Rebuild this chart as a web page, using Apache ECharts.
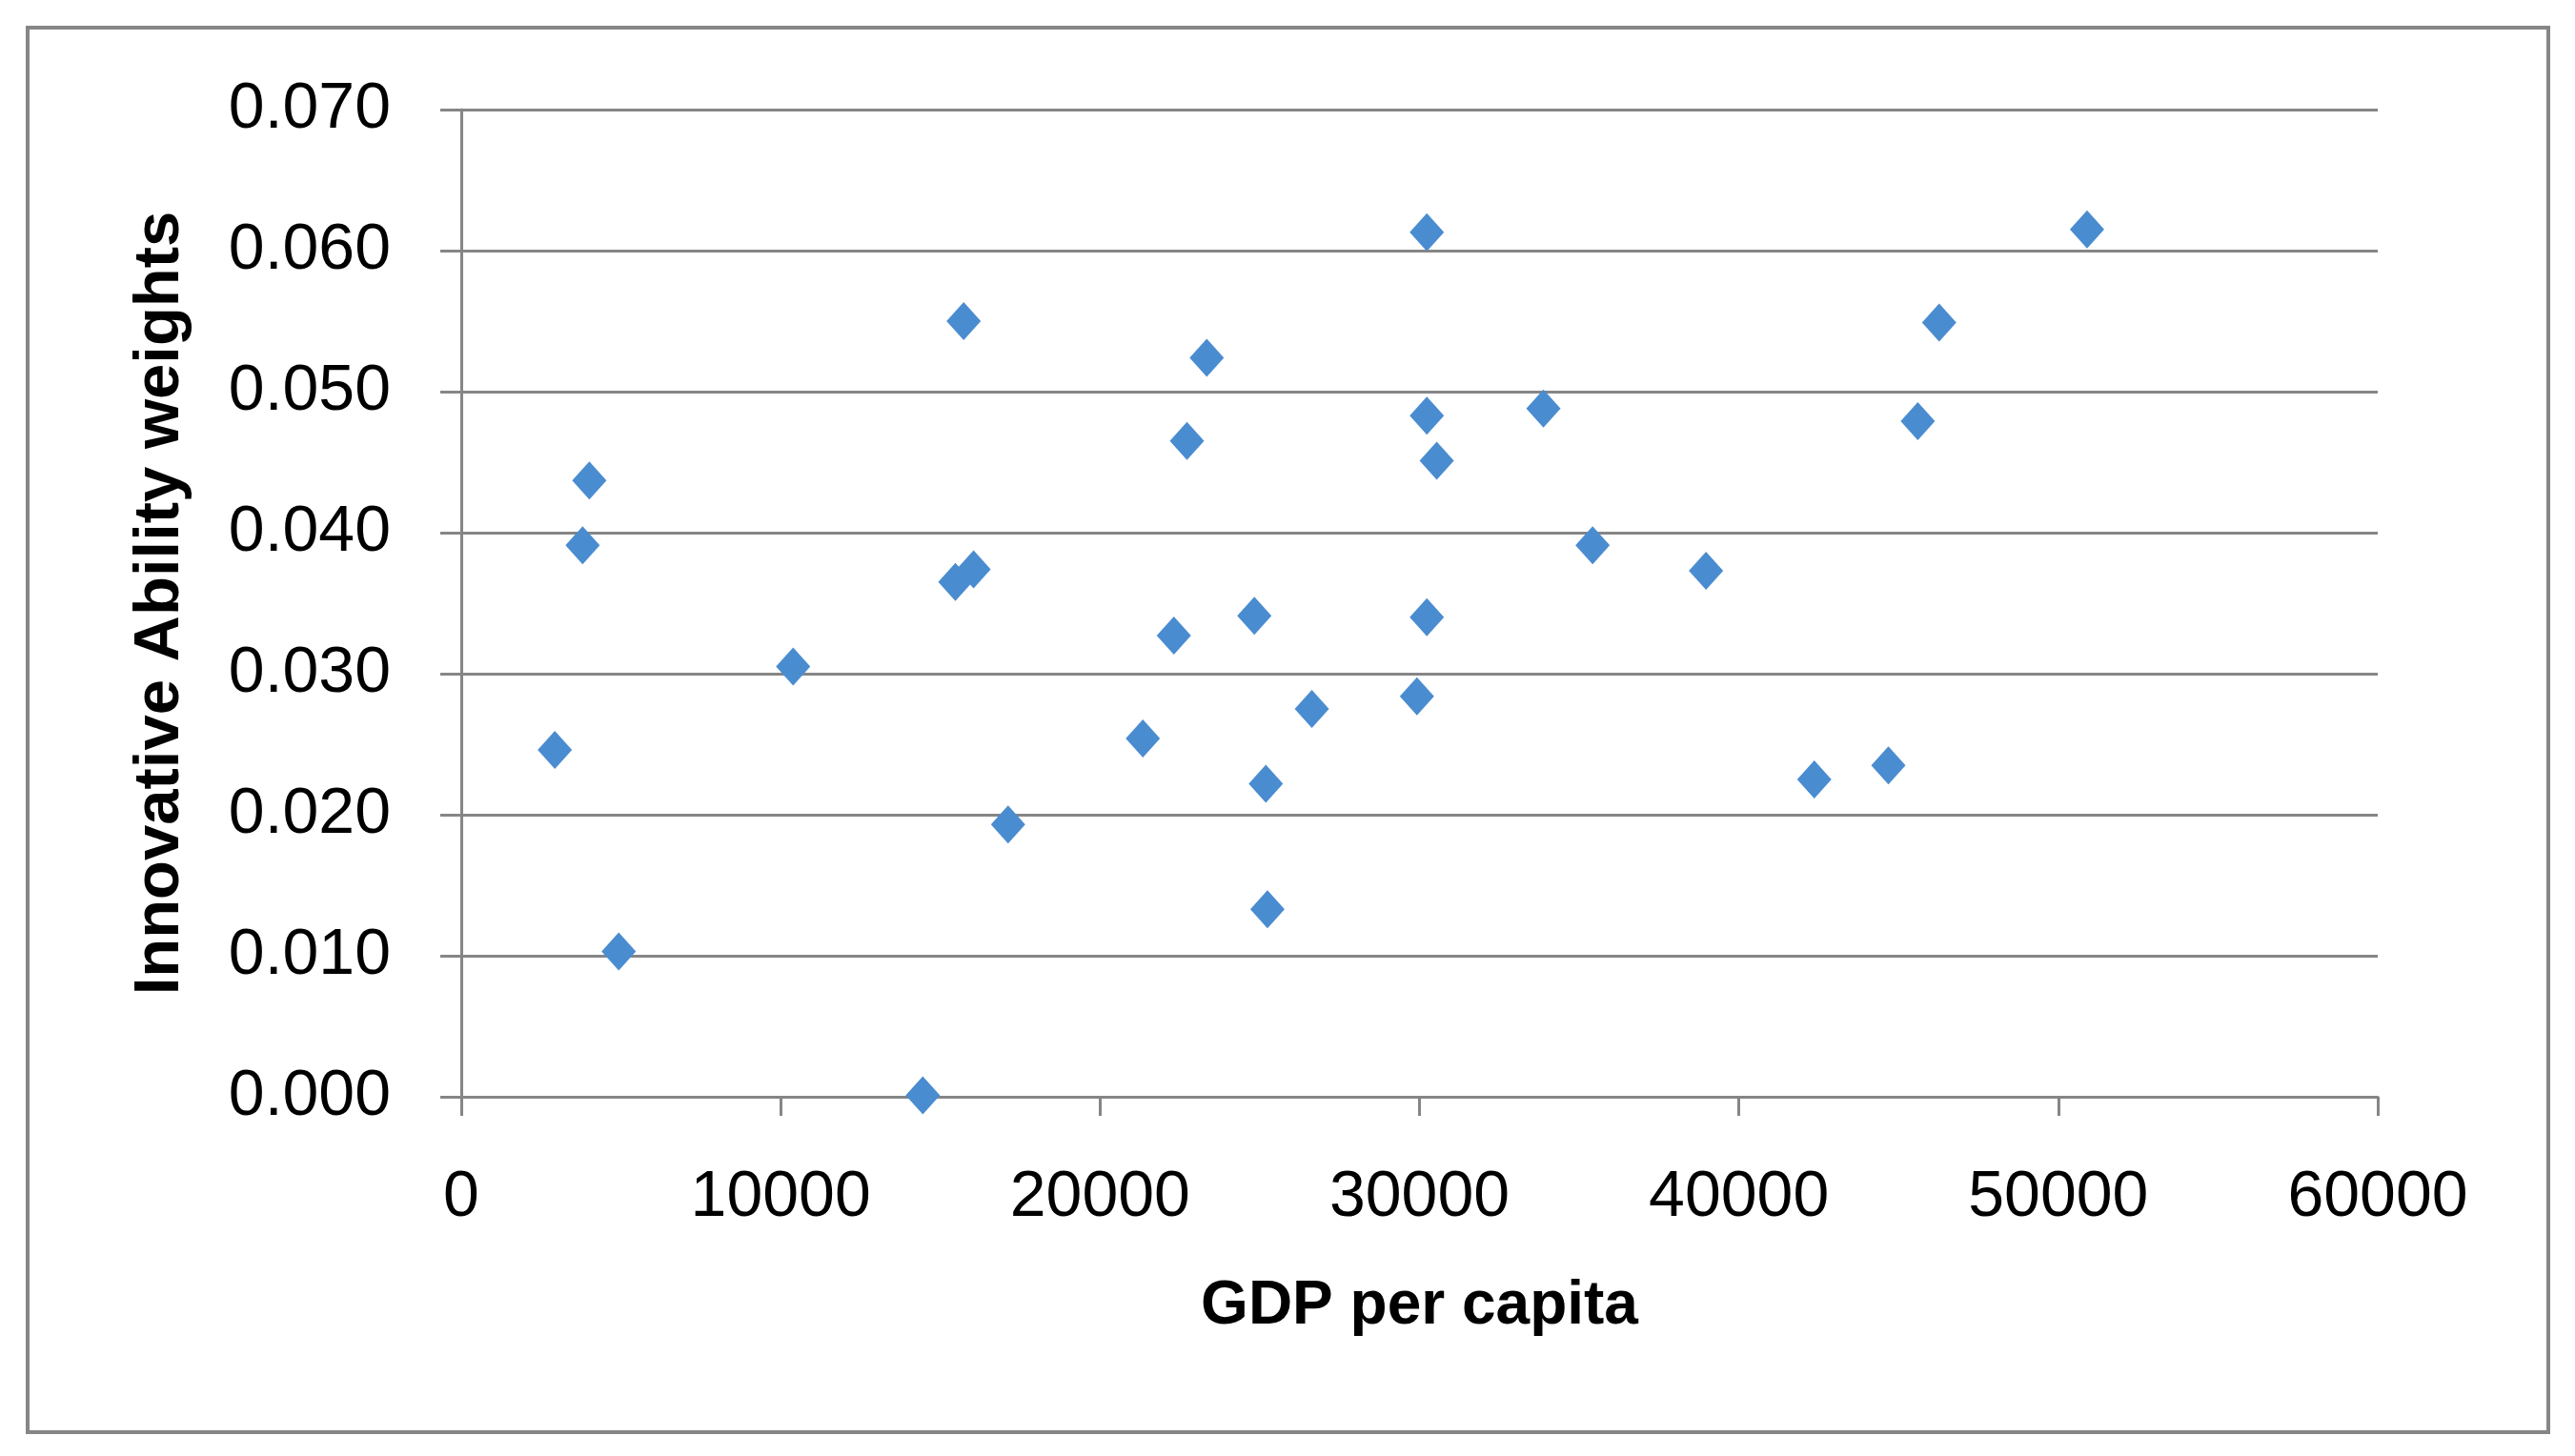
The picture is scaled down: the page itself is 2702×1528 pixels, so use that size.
<!DOCTYPE html>
<html>
<head>
<meta charset="utf-8">
<script src="https://cdn.jsdelivr.net/npm/echarts@6/dist/echarts.min.js"></script>
<style>
html,body{margin:0;padding:0;background:#fff;}
#chart{width:2702px;height:1528px;}
</style>
</head>
<body>
<div id="chart"></div>
<script>
// GDP per capita (x) and Innovative Ability weights (y)
const gdpPerCapita = [2930, 3800, 4010, 4930, 10390, 14450, 15470, 15730, 16040, 17120,
  21340, 22310, 22720, 23340, 24830, 25190, 25240, 26630, 29920, 30230,
  30230, 30230, 30540, 33880, 35420, 38970, 42360, 44680, 45600, 46270, 50900];
const innovWeights = [0.0246, 0.0391, 0.0437, 0.0103, 0.0305, 0.0001, 0.0365, 0.0550, 0.0374, 0.0193,
  0.0254, 0.0327, 0.0465, 0.0524, 0.0341, 0.0222, 0.0133, 0.0275, 0.0284, 0.0613,
  0.0483, 0.0340, 0.0451, 0.0488, 0.0391, 0.0373, 0.0225, 0.0235, 0.0479, 0.0549, 0.0615];
const xTicks = [0, 10000, 20000, 30000, 40000, 50000, 60000];
const yTicks = [0.000, 0.010, 0.020, 0.030, 0.040, 0.050, 0.060, 0.070];

const points = gdpPerCapita.map((x, i) => [x, innovWeights[i]]);
const gray = '#868686';
const chart = echarts.init(document.getElementById('chart'));
chart.setOption({
  backgroundColor: '#fff',
  animation: false,
  graphic: [{
    type: 'rect', shape: {x: 29, y: 29, width: 2645, height: 1474},
    style: {fill: 'none', stroke: gray, lineWidth: 4}, z: -1
  }],
  grid: {left: 484, right: 207, top: 115, bottom: 377},
  xAxis: {
    type: 'value', min: xTicks[0], max: xTicks[xTicks.length - 1], interval: 10000,
    name: 'GDP per capita', nameLocation: 'middle', nameGap: 188,
    nameTextStyle: {fontFamily: 'Liberation Sans', fontWeight: 'bold', fontSize: 64, color: '#000'},
    axisLine: {lineStyle: {color: gray, width: 3}},
    axisTick: {show: true, inside: false, length: 20, lineStyle: {color: gray, width: 3}},
    axisLabel: {margin: 72, fontFamily: 'Liberation Sans', fontSize: 68, color: '#000',
      formatter: v => String(v)},
    splitLine: {show: false}
  },
  yAxis: {
    type: 'value', min: yTicks[0], max: yTicks[yTicks.length - 1], interval: 0.01,
    name: 'Innovative Ability weights', nameLocation: 'middle', nameGap: 282, nameRotate: 90,
    nameTextStyle: {fontFamily: 'Liberation Sans', fontWeight: 'bold', fontSize: 67, color: '#000'},
    axisLine: {show: true, lineStyle: {color: gray, width: 3}},
    axisTick: {show: true, inside: false, length: 22, lineStyle: {color: gray, width: 3}},
    axisLabel: {margin: 74, fontFamily: 'Liberation Sans', fontSize: 68, color: '#000',
      formatter: v => v.toFixed(3)},
    splitLine: {show: true, lineStyle: {color: gray, width: 3}}
  },
  series: [{
    type: 'scatter',
    symbol: 'diamond',
    symbolSize: [36, 40],
    itemStyle: {color: '#4A8CD0', opacity: 1},
    data: points
  }]
});
</script>
</body>
</html>
